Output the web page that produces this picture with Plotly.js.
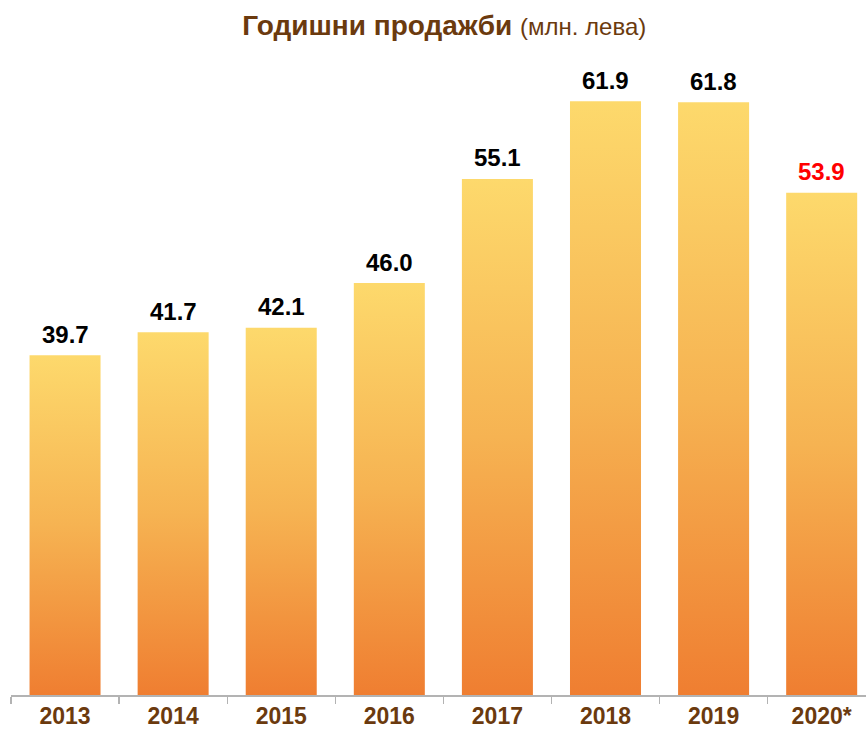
<!DOCTYPE html>
<html>
<head>
<meta charset="utf-8">
<script src="https://cdn.plot.ly/plotly-3.0.1.min.js"></script>
<style>
html,body{margin:0;padding:0;background:#fff;}
#chart{width:866px;height:729px;}
</style>
</head>
<body>
<div id="chart"></div>
<script>
const categories = ["2013","2014","2015","2016","2017","2018","2019","2020*"];
const values = [39.7, 41.7, 42.1, 46.0, 55.1, 61.9, 61.8, 53.9];
const labelColors = ["#000000","#000000","#000000","#000000","#000000","#000000","#000000","#FF0000"];
const labels = values.map(v => v.toFixed(1));

const trace = {
  type: "bar",
  x: categories,
  y: values,
  marker: {color: "#F5A845", line: {width: 0}},
  hoverinfo: "skip"
};

// category axes: annotation x given as category index
const annotations = categories.map((c, i) => ({
  x: i, y: values[i], xref: "x", yref: "y",
  text: "<b>" + labels[i] + "</b>", showarrow: false,
  yanchor: "middle", yshift: 21,
  font: {family: "Liberation Sans, Arial, sans-serif", size: 24, color: labelColors[i]}
}));

const layout = {
  width: 866, height: 729,
  margin: {l: 11, r: 0, t: 60, b: 34},
  paper_bgcolor: "#fff", plot_bgcolor: "#fff",
  showlegend: false,
  bargap: 0.343,
  title: {
    text: "<b>Годишни продажби</b> <span style='font-size:24px'>(млн. лева)</span>",
    x: 0.513, xanchor: "center", y: 0.965, yanchor: "middle",
    font: {family: "Liberation Sans, Arial, sans-serif", size: 28, color: "#6B3A0E"}
  },
  xaxis: {
    type: "category",
    range: [-0.5, 7.41],
    showline: true, linecolor: "#B3B3B3", linewidth: 1.5,
    ticks: "outside", tickson: "boundaries", ticklen: 7, tickcolor: "#B3B3B3", tickwidth: 1.2,
    tickfont: {family: "Liberation Sans, Arial, sans-serif", size: 23, color: "#6B3A0E", weight: "bold"},
    showgrid: false, zeroline: false, fixedrange: true
  },
  yaxis: {
    range: [10, 65.5],
    visible: false, showgrid: false, zeroline: false, fixedrange: true
  },
  annotations: annotations
};

function applyGradient(gd) {
  const svg = gd.querySelector("svg.main-svg");
  if (!svg) return;
  const ns = "http://www.w3.org/2000/svg";
  let defs = svg.querySelector("defs");
  if (!defs) { defs = document.createElementNS(ns, "defs"); svg.insertBefore(defs, svg.firstChild); }
  const plotH = gd._fullLayout._size.h;
  gd.querySelectorAll(".trace.bars .point path").forEach((p, i) => {
    const id = "barGrad" + i;
    let lg = svg.querySelector("#" + id);
    if (lg) lg.remove();
    const bb = p.getBBox();
    lg = document.createElementNS(ns, "linearGradient");
    lg.setAttribute("id", id);
    lg.setAttribute("gradientUnits", "userSpaceOnUse");
    lg.setAttribute("x1", "0"); lg.setAttribute("y1", String(bb.y));
    lg.setAttribute("x2", "0"); lg.setAttribute("y2", String(plotH));
    [["0","#FDD96C"],["0.5","#F6B352"],["1","#EF7E31"]].forEach(([o,c]) => {
      const s = document.createElementNS(ns, "stop");
      s.setAttribute("offset", o); s.setAttribute("stop-color", c);
      lg.appendChild(s);
    });
    defs.appendChild(lg);
    p.style.fill = "url(#" + id + ")";
  });
}

Plotly.newPlot("chart", [trace], layout, {displayModeBar: false, staticPlot: true}).then(gd => {
  applyGradient(gd);
  gd.on("plotly_afterplot", () => applyGradient(gd));
});
</script>
</body>
</html>
